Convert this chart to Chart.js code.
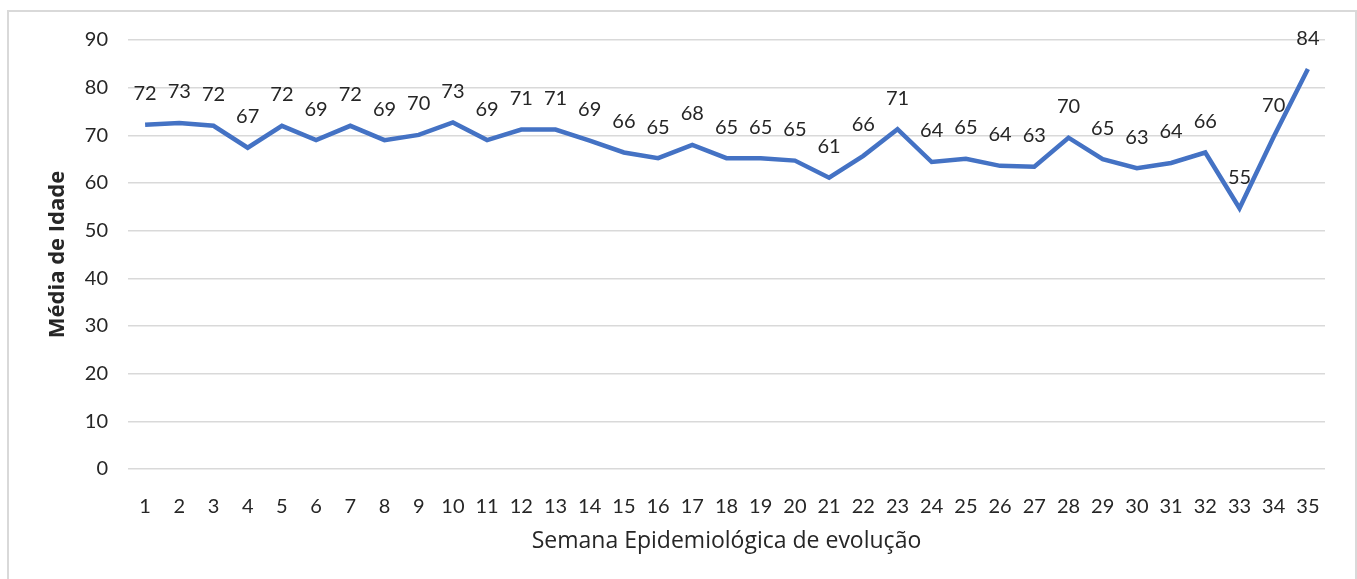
<!DOCTYPE html>
<html>
<head>
<meta charset="utf-8">
<script src="https://cdn.jsdelivr.net/npm/chart.js@4"></script>
<style>
  body { margin: 0; background: #fff; }
  #wrap { position: relative; width: 1357px; height: 579px; overflow: hidden; }
  #frame { position: absolute; left: 7px; top: 10px; width: 1346px; height: 580px; border: 2px solid #d9d9d9; pointer-events: none; }
</style>
</head>
<body>
<div id="wrap">
  <canvas id="myChart" width="1357" height="579"></canvas>
  <div id="frame"></div>
</div>
<script>
var semanas = [];
for (var i = 1; i <= 35; i++) semanas.push(String(i));

var media_idade = [72.2, 72.6, 72.0, 67.4, 72.0, 69.0, 72.0, 69.0, 70.1, 72.7,
                   69.0, 71.2, 71.2, 68.9, 66.4, 65.2, 68.0, 65.2, 65.2, 64.7,
                   61.1, 65.7, 71.3, 64.4, 65.1, 63.6, 63.4, 69.5, 65.0, 63.1,
                   64.2, 66.4, 54.7, 69.7, 83.9];

var y_ticks = [0, 10, 20, 30, 40, 50, 60, 70, 80, 90];

var txt = '#262626';
var fam = 'Lato, "Open Sans", sans-serif';
var famTitle = '"Open Sans", Lato, sans-serif';

var valueLabels = {
  id: 'valueLabels',
  afterDatasetsDraw: function(chart) {
    var ctx = chart.ctx;
    var meta = chart.getDatasetMeta(0);
    ctx.save();
    ctx.font = '20px ' + fam;
    ctx.fillStyle = txt;
    ctx.textAlign = 'center';
    ctx.textBaseline = 'middle';
    meta.data.forEach(function(pt, i) {
      ctx.fillText(Math.round(media_idade[i]), pt.x, pt.y - 31);
    });
    ctx.restore();
  }
};

var ctx = document.getElementById('myChart').getContext('2d');
var myChart = new Chart(ctx, {
  type: 'line',
  data: {
    labels: semanas,
    datasets: [{
      data: media_idade,
      borderColor: '#4472C4',
      borderWidth: 4.5,
      pointRadius: 0,
      tension: 0,
      fill: false
    }]
  },
  options: {
    responsive: false,
    animation: false,
    layout: { padding: { top: 40, right: 32, left: 0, bottom: 0 } },
    plugins: {
      legend: { display: false },
      tooltip: { enabled: false }
    },
    scales: {
      x: {
        offset: true,
        grid: { display: false },
        border: { display: false },
        ticks: { color: txt, font: { family: fam, size: 20 }, padding: 18, maxRotation: 0, autoSkip: false },
        title: { display: true, text: 'Semana Epidemiológica de evolução', color: txt, font: { family: famTitle, size: 23 }, padding: { top: 0, bottom: 24 } },
        afterFit: function(scale) { scale.height = 110; }
      },
      y: {
        min: 0,
        max: 90,
        afterBuildTicks: function(scale) { scale.ticks = y_ticks.map(function(v) { return { value: v }; }); },
        grid: { color: '#d9d9d9', lineWidth: 1.5, drawTicks: false },
        border: { display: false },
        ticks: { color: txt, font: { family: fam, size: 20 }, padding: 20 },
        title: { display: true, text: 'Média de Idade', color: txt, font: { family: famTitle, size: 22, weight: 'bold' }, padding: { top: 45, bottom: 0 } },
        afterFit: function(scale) { scale.width = 128; }
      }
    }
  },
  plugins: [valueLabels]
});
</script>
</body>
</html>
